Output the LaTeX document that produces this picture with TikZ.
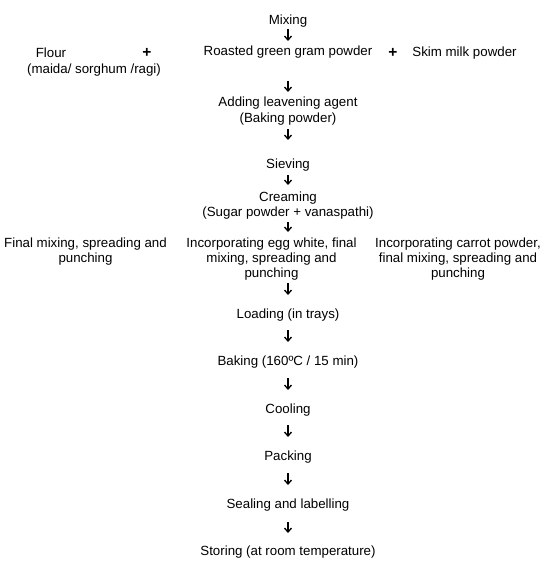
\documentclass[tikz,border=0pt]{standalone}
\usepackage{fontspec}
\setmainfont{Liberation Sans}
\usetikzlibrary{arrows.meta}
\begin{document}
\begin{tikzpicture}[x=1pt,y=-1pt,
  txt/.style={font=\fontsize{13.3}{15}\selectfont, align=center, inner sep=0pt, anchor=base},
  plus/.style={font=\fontsize{15.5}{15}\selectfont\bfseries, inner sep=0pt, anchor=base},
  arr/.style={-{Straight Barb[length=4pt,width=7pt]}, line width=1.3pt}]
\useasboundingbox (0,0) rectangle (544,567);
\node[txt] (mix) at (288,25) {Mixing};
\node[txt] (rgg) at (288,56) {Roasted green gram powder};
\node[txt] (flour) at (51,58) {Flour};
\node[txt] (maida) at (94,74) {(maida/ sorghum /ragi)};
\node[plus] (p1) at (147,57.5) {+};
\node[plus] (p2) at (393,58) {+};
\node[txt] (skim) at (464.5,57) {Skim milk powder};
\node[txt, font=\fontsize{13.3}{16}\selectfont] (add) at (288,122) {Adding leavening agent\\(Baking powder)};
\node[txt] (siev) at (288,168) {Sieving};
\node[txt] (cream) at (288,216) {Creaming\\(Sugar powder + vanaspathi)};
\node[txt] (fmL) at (85.5,262) {Final mixing, spreading and\\punching};
\node[txt] (fmM) at (271.5,277) {Incorporating egg white, final\\mixing, spreading and\\punching};
\node[txt] (fmR) at (458,277) {Incorporating carrot powder,\\final mixing, spreading and\\punching};
\node[txt] (load) at (288,318) {Loading (in trays)};
\node[txt] (bake) at (288,365) {Baking (160ºC / 15 min)};
\node[txt] (cool) at (288,413) {Cooling};
\node[txt] (pack) at (288,460) {Packing};
\node[txt] (seal) at (288,508) {Sealing and labelling};
\node[txt] (store) at (288,555) {Storing (at room temperature)};
\foreach \i/\a/\b in {1/29/41, 2/81/92, 3/129/140, 4/175/185, 5/222/232, 6/283/295, 7/330/342, 8/378/390, 9/425/437, 10/473/485, 11/522/533}{
  \coordinate (s\i) at (288,\a);
  \coordinate (e\i) at (288,\b);
  \draw[arr] (s\i) -- (e\i);
}
\end{tikzpicture}
\end{document}
